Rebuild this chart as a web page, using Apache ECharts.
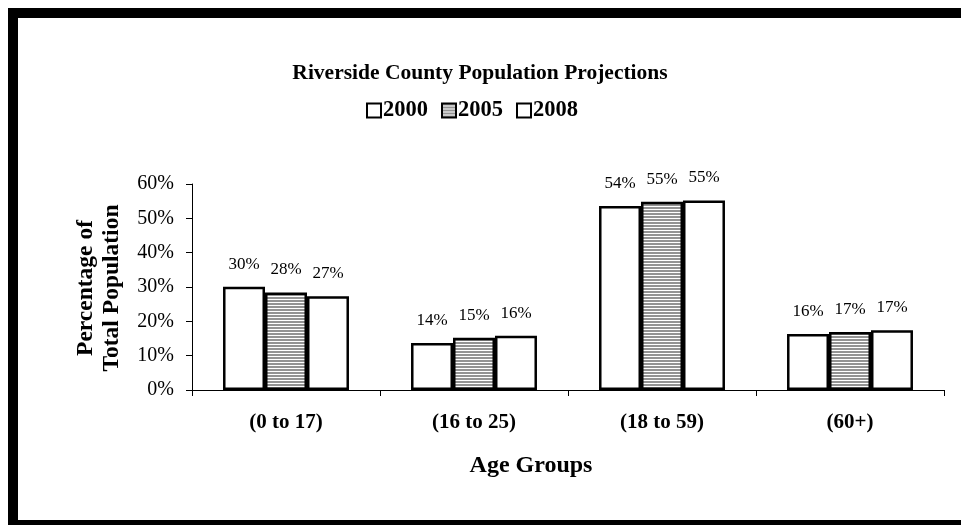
<!DOCTYPE html>
<html>
<head>
<meta charset="utf-8">
<title>Riverside County Population Projections</title>
<script src="https://cdn.jsdelivr.net/npm/echarts@6/dist/echarts.min.js"></script>
<style>
	html, body { margin: 0; padding: 0; background: #fff; }
	#chart { width: 961px; height: 525px; }
</style>
</head>
<body>
<div id="chart"></div>
<script>
/* 类别 */
var ageGroups = ["(0 to 17)", "(16 to 25)", "(18 to 59)", "(60+)"];
/* 各年份占比 % */
var years = ["2000", "2005", "2008"];
var data2000 = [30.1, 13.7, 53.6, 16.3];
var data2005 = [28.4, 15.2, 54.8, 16.9];
var data2008 = [27.3, 15.8, 55.2, 17.4];
var yTicks = [0, 10, 20, 30, 40, 50, 60];

window.onload = function() {
	var font = "'Liberation Serif', 'DejaVu Serif', serif";

	/* 2005 横条纹 */
	var stripe = document.createElement("canvas");
	stripe.width = 4;
	stripe.height = 3;
	var ctx = stripe.getContext("2d");
	ctx.fillStyle = "#ffffff";
	ctx.fillRect(0, 0, 4, 3);
	ctx.fillStyle = "#939393";
	ctx.fillRect(0, 0, 4, 2);

	var chart = echarts.init(document.getElementById("chart"));

	function barSeries(name, values, fill) {
		return {
			name: name,
			type: 'bar',
			data: values,
			barGap: '0%',
			barCategoryGap: '33%',
			itemStyle: {
				color: fill,
				borderColor: '#000',
				borderWidth: 2.5
			},
			label: {
				show: true,
				position: 'top',
				distance: 14,
				color: '#000',
				fontFamily: font,
				fontSize: 17,
				formatter: function(p) {
					return Math.round(p.value) + '%';
				}
			}
		};
	}

	var option = {
		animation: false,
		backgroundColor: '#fff',
		title: {
			text: 'Riverside County Population Projections',
			left: 475,
			top: 57,
			textAlign: 'center',
			textStyle: {
				color: '#000',
				fontFamily: font,
				fontWeight: 'bold',
				fontSize: 21.5
			}
		},
		legend: {
			data: years,
			top: 94,
			left: 361,
			icon: 'rect',
			itemWidth: 14,
			itemHeight: 14,
			itemGap: 13,
			textStyle: {
				color: '#000',
				fontFamily: font,
				fontWeight: 'bold',
				fontSize: 22.5,
				padding: [0, 0, 0, -3]
			},
			itemStyle: {
				borderColor: '#000',
				borderWidth: 2
			}
		},
		grid: {
			left: 192,
			right: 17,
			top: 184,
			bottom: 135
		},
		xAxis: {
			type: 'category',
			data: ageGroups,
			axisLine: { lineStyle: { color: '#000', width: 1 } },
			axisTick: { show: true, length: 6, lineStyle: { color: '#000' } },
			axisLabel: {
				color: '#000',
				fontFamily: font,
				fontWeight: 'bold',
				fontSize: 21,
				margin: 22
			}
		},
		yAxis: {
			type: 'value',
			min: yTicks[0],
			max: yTicks[yTicks.length - 1],
			interval: 10,
			splitLine: { show: false },
			axisLine: { show: true, lineStyle: { color: '#000', width: 1 } },
			axisTick: { show: true, length: 6, lineStyle: { color: '#000' } },
			axisLabel: {
				color: '#000',
				fontFamily: font,
				fontSize: 20,
				margin: 18,
				formatter: '{value}%'
			}
		},
		graphic: [
			{ type: 'rect', shape: { x: 8, y: 8, width: 953, height: 10 }, style: { fill: '#000' } },
			{ type: 'rect', shape: { x: 8, y: 8, width: 10, height: 517 }, style: { fill: '#000' } },
			{ type: 'rect', shape: { x: 8, y: 520, width: 953, height: 5 }, style: { fill: '#000' } },
			{
				type: 'text',
				x: 531,
				y: 466,
				style: {
					text: 'Age Groups',
					fill: '#000',
					font: "bold 24px 'Liberation Serif', 'DejaVu Serif', serif",
					textAlign: 'center',
					textVerticalAlign: 'middle'
				}
			},
			{
				type: 'text',
				x: 99,
				y: 288,
				rotation: Math.PI / 2,
				style: {
					text: 'Percentage of\nTotal Population',
					fill: '#000',
					font: "bold 23.5px 'Liberation Serif', 'DejaVu Serif', serif",
					lineHeight: 26,
					textAlign: 'center',
					textVerticalAlign: 'middle'
				}
			}
		],
		series: [
			barSeries(years[0], data2000, '#ffffff'),
			barSeries(years[1], data2005, { image: stripe, repeat: 'repeat' }),
			barSeries(years[2], data2008, '#ffffff')
		]
	};
	chart.setOption(option);
};
</script>
</body>
</html>
